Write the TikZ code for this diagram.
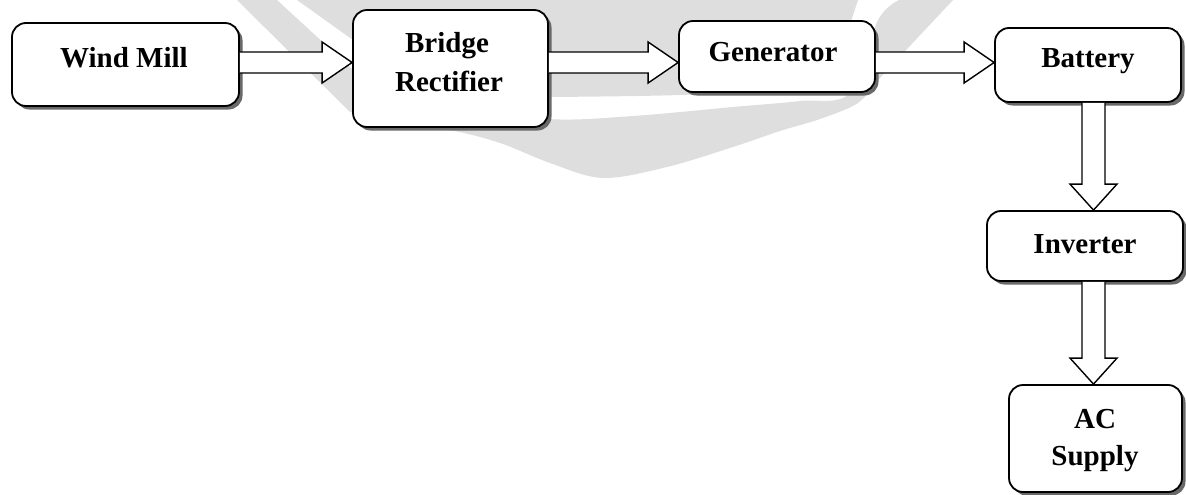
\documentclass[tikz,border=0pt]{standalone}
\usepackage{fontspec}
\setmainfont{Liberation Serif}
\usetikzlibrary{shadows,calc}

\definecolor{wmark}{RGB}{222,222,222}
\definecolor{boxshade}{RGB}{105,105,105}

\tikzset{
  blockbox/.style={draw=black, line width=1.8pt, rounded corners=14pt, fill=white,
    inner sep=0pt,
    drop shadow={shadow xshift=3.5pt, shadow yshift=-3.5pt, fill=boxshade, opacity=1}},
  blocklabel/.style={inner sep=0pt, anchor=base,
    font=\fontsize{29}{34}\selectfont\bfseries},
  fatarrow/.style={draw=black, line width=1.4pt, fill=white, line join=miter},
}

% hollow block arrow pointing right, from node #1 to node #2
\newcommand{\fatright}[2]{%
  \draw[fatarrow] (#1.east |- 0,52)
    -- ($(#2.west |- 0,52)+(-30,0)$) -- ($(#2.west |- 0,42)+(-30,0)$)
    -- (#2.west |- 0,62.5)
    -- ($(#2.west |- 0,83)+(-30,0)$) -- ($(#2.west |- 0,73)+(-30,0)$)
    -- (#1.east |- 0,73);}
% hollow block arrow pointing down, from node #1 to node #2
\newcommand{\fatdown}[2]{%
  \draw[fatarrow] (#1.south -| 1082,0)
    -- ($(#2.north -| 1082,0)+(0,-26)$) -- ($(#2.north -| 1070,0)+(0,-26)$)
    -- (#2.north -| 1093.5,0)
    -- ($(#2.north -| 1117,0)+(0,-26)$) -- ($(#2.north -| 1105,0)+(0,-26)$)
    -- (#1.south -| 1105,0);}

\begin{document}
\begin{tikzpicture}[x=1pt, y=-1pt]
\useasboundingbox (0,0) rectangle (1186,495);

% faint logo in the background
\fill[wmark] (237,0) -- (277,0)
  -- plot[smooth, tension=0.55] coordinates {(353,70) (450,104) (548,119) (633,116)
       (733,107) (800,101) (850,93) (878,20) (899,0)}
  -- (953,0)
  -- plot[smooth, tension=0.55] coordinates {(878,80) (858,103) (820,119) (780,131)
       (733,147) (667,167) (603,178) (550,163) (500,143) (450,130) (350,112)}
  -- cycle;
\fill[wmark] (297,0) -- (858,0) -- (845,40)
  -- plot[smooth, tension=0.55] coordinates {(800,88) (680,95) (548,97)}
  -- (353,40) -- cycle;

% blocks
\node[blockbox, minimum width=227pt, minimum height=83pt]  (wind) at (125.5,64.5) {};
\node[blockbox, minimum width=195pt, minimum height=117pt] (rect) at (450.5,68.5) {};
\node[blockbox, minimum width=196pt, minimum height=71pt]  (gen)  at (777,56.5) {};
\node[blockbox, minimum width=186pt, minimum height=74pt]  (batt) at (1088,65) {};
\node[blockbox, minimum width=196pt, minimum height=70pt]  (inv)  at (1085,246) {};
\node[blockbox, minimum width=173pt, minimum height=107pt] (acs)  at (1095.5,438.5) {};

% connectors
\fatright{wind}{rect}
\fatright{rect}{gen}
\fatright{gen}{batt}
\fatdown{batt}{inv}
\fatdown{inv}{acs}

% block texts
\node[blocklabel] (twind) at (124,68)   {Wind Mill};
\node[blocklabel] (trect1) at (447,53)  {Bridge};
\node[blocklabel] (trect2) at (449,92)  {Rectifier};
\node[blocklabel] (tgen)  at (773,62)   {Generator};
\node[blocklabel] (tbatt) at (1088,67)  {Battery};
\node[blocklabel] (tinv)  at (1085,253) {Inverter};
\node[blocklabel] (tac1)  at (1095,428) {AC};
\node[blocklabel] (tac2)  at (1095,465) {Supply};
\end{tikzpicture}
\end{document}
